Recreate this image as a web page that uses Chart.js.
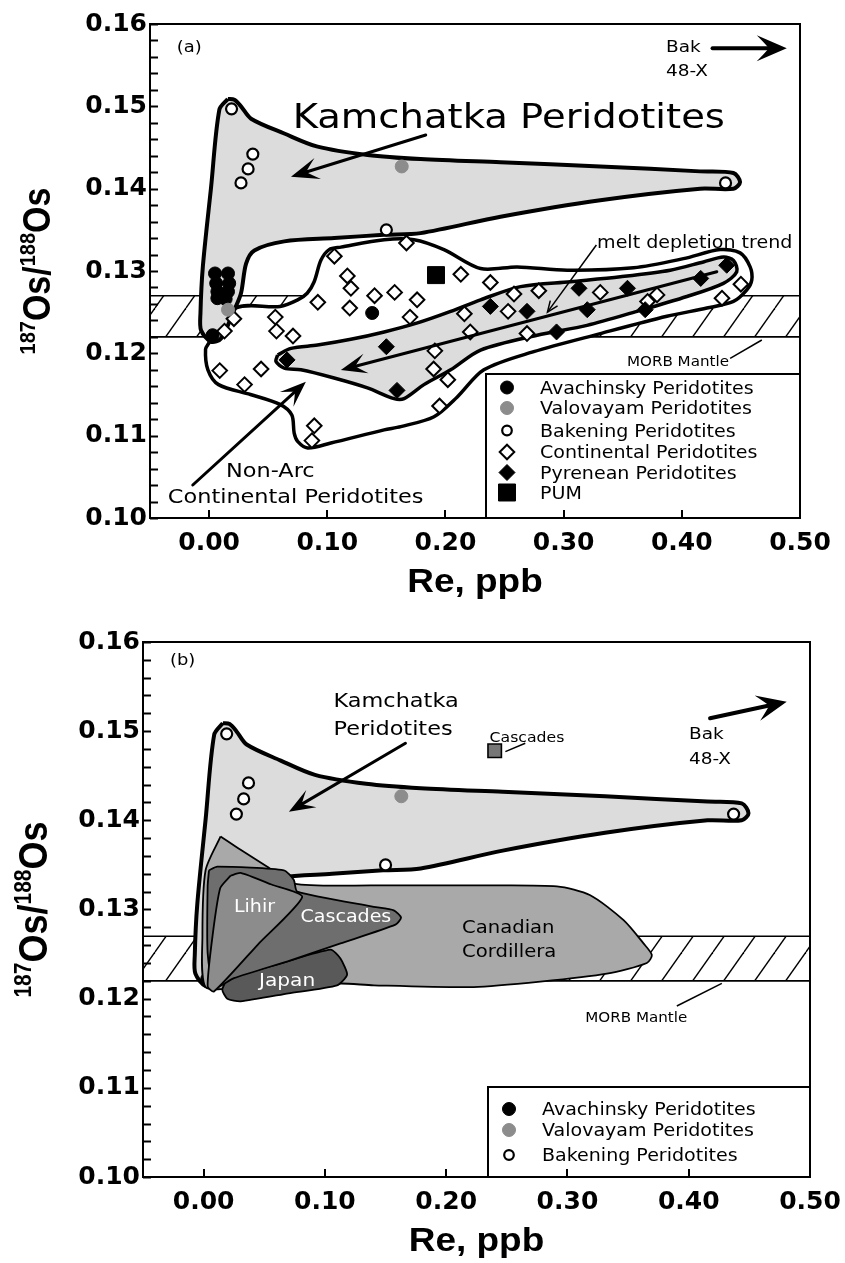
<!DOCTYPE html>
<html>
<head>
<meta charset="utf-8">
<script src="https://cdn.jsdelivr.net/npm/chart.js@4.4.1/dist/chart.umd.min.js"></script>
<style>
  html, body { margin: 0; padding: 0; background: #fff; }
  #wrap { position: relative; width: 845px; height: 1263px; overflow: hidden; background: #fff; }
  #cA { position: absolute; left: 0; top: 0; }
  #cB { position: absolute; left: 0; top: 600px; }
</style>
</head>
<body>
<div id="wrap">
  <canvas id="cA" width="845" height="600"></canvas>
  <canvas id="cB" width="845" height="663"></canvas>
</div>
<script>
// ---------- axes ----------
const X_MIN = -0.05, X_MAX = 0.50;
const Y_MIN = 0.10, Y_MAX = 0.16;
const xTicks = [0.00, 0.10, 0.20, 0.30, 0.40, 0.50];
const yTicks = [0.10, 0.11, 0.12, 0.13, 0.14, 0.15, 0.16];
const yMinorStep = 0.002;

// ---------- samples: Re (ppb) and 187Os/188Os ----------
const avachinskyRe = [0.005, 0.016, 0.006, 0.017, 0.007, 0.016, 0.007, 0.014, 0.003, 0.138];
const avachinskyOs = [0.1297, 0.1297, 0.1285, 0.1285, 0.1275, 0.1275, 0.1267, 0.1266, 0.1222, 0.1249];

const valovayamRe = [0.163, 0.016];
const valovayamOs = [0.1427, 0.1253];

const bakeningRe = [0.019, 0.037, 0.033, 0.027, 0.150, 0.437];
const bakeningOs = [0.1497, 0.1442, 0.1424, 0.1407, 0.1350, 0.1407];

const continentalRe = [0.106, 0.167, 0.213, 0.117, 0.120, 0.092, 0.119, 0.140, 0.157, 0.176,
                       0.170, 0.216, 0.221, 0.191, 0.190, 0.202, 0.195, 0.089, 0.087, 0.056,
                       0.057, 0.071, 0.021, 0.013, 0.009, 0.030, 0.044, 0.238, 0.258, 0.279,
                       0.253, 0.269, 0.331, 0.379, 0.371, 0.434, 0.450];
const continentalOs = [0.1318, 0.1334, 0.1296, 0.1294, 0.1279, 0.1262, 0.1255, 0.1270, 0.1274, 0.1265,
                       0.1244, 0.1248, 0.1226, 0.1203, 0.1181, 0.1168, 0.1136, 0.1112, 0.1094, 0.1244,
                       0.1227, 0.1221, 0.1242, 0.1227, 0.1179, 0.1162, 0.1181, 0.1286, 0.1272, 0.1276,
                       0.1251, 0.1224, 0.1274, 0.1271, 0.1263, 0.1267, 0.1284];

const pyreneanRe = [0.066, 0.150, 0.159, 0.238, 0.269, 0.294, 0.313, 0.320, 0.354, 0.369, 0.416, 0.438];
const pyreneanOs = [0.1192, 0.1208, 0.1155, 0.1257, 0.1251, 0.1226, 0.1279, 0.1253, 0.1279, 0.1253, 0.1291, 0.1307];

const pumRe = [0.192];
const pumOs = [0.1295];

const cascadesRe = [0.240];
const cascadesOs = [0.1478];

// MORB mantle range of 187Os/188Os
const morbRange = [0.122, 0.127];

// ---------- field outlines [Re, 187Os/188Os] ----------
const kamchatkaField = [
  [0.0158, 0.1509], [0.0214, 0.1508], [0.027, 0.1500], [0.0355, 0.1485], [0.0636, 0.1467],
  [0.0918, 0.1451], [0.134, 0.1441], [0.179, 0.1436], [0.2466, 0.1432], [0.331, 0.1427],
  [0.4155, 0.1421], [0.4437, 0.1419], [0.4493, 0.1408], [0.4437, 0.1400], [0.4155, 0.1400],
  [0.331, 0.1386], [0.2466, 0.1366], [0.179, 0.1346], [0.148, 0.1344], [0.1059, 0.1340],
  [0.0636, 0.1336], [0.0383, 0.1325], [0.0313, 0.1309], [0.027, 0.1273], [0.0214, 0.1253],
  [0.0101, 0.1218], [0.0017, 0.1214], [-0.0068, 0.1228], [-0.0073, 0.1249], [-0.0053, 0.1305],
  [0.0017, 0.1402], [0.0087, 0.1496]
];

const continentalField = [
  [0.0, 0.1213], [0.0228, 0.1255], [0.06, 0.1257], [0.075, 0.1265], [0.083, 0.1273],
  [0.0889, 0.1287], [0.0946, 0.1313], [0.1016, 0.1326], [0.1115, 0.1329], [0.1481, 0.1338],
  [0.1734, 0.1338], [0.1987, 0.1326], [0.2297, 0.1303], [0.2607, 0.1305], [0.303, 0.1301],
  [0.3592, 0.1304], [0.4014, 0.1315], [0.4324, 0.1326], [0.4493, 0.1322], [0.4578, 0.1305],
  [0.4592, 0.1289], [0.455, 0.1277], [0.4437, 0.1263], [0.4212, 0.1255], [0.3874, 0.1245],
  [0.3311, 0.1224], [0.2747, 0.1202], [0.2325, 0.1180], [0.21, 0.1147], [0.1903, 0.1123],
  [0.1622, 0.1111], [0.1481, 0.1107], [0.103, 0.1091], [0.0834, 0.1085], [0.0749, 0.1093],
  [0.072, 0.1103], [0.070, 0.1125], [0.060, 0.1138], [0.035, 0.1150], [0.008, 0.1162],
  [-0.001, 0.1180], [-0.003, 0.1205]
];

const pyreneanField = [
  [0.058, 0.1198], [0.0693, 0.1206], [0.0918, 0.1210], [0.1199, 0.1217], [0.1481, 0.1226],
  [0.1763, 0.1237], [0.2044, 0.1251], [0.2297, 0.1265], [0.2635, 0.1281], [0.3057, 0.1287],
  [0.348, 0.1293], [0.3902, 0.1301], [0.4183, 0.1311], [0.4352, 0.1317], [0.4437, 0.1313],
  [0.4465, 0.1299], [0.4352, 0.1285], [0.4043, 0.1269], [0.3621, 0.1251], [0.3198, 0.1234],
  [0.2776, 0.1222], [0.2297, 0.1204], [0.2044, 0.1180], [0.1818, 0.1162], [0.165, 0.1145],
  [0.1565, 0.1145], [0.134, 0.1158], [0.1058, 0.1170], [0.0777, 0.1180], [0.0636, 0.1182],
  [0.0566, 0.1190]
];

const canadianField = [
  [0.014, 0.1382], [0.0305, 0.1367], [0.0525, 0.1348], [0.0745, 0.1329], [0.1403, 0.1327],
  [0.2227, 0.1327], [0.2913, 0.1326], [0.3188, 0.1316], [0.3463, 0.1288], [0.3627, 0.1262],
  [0.3696, 0.1249], [0.3655, 0.1240], [0.3325, 0.1228], [0.2776, 0.1219], [0.2227, 0.1213],
  [0.1403, 0.1215], [0.1128, 0.1217], [0.03, 0.1213], [0.0016, 0.1213], [-0.001, 0.1270],
  [0.0016, 0.1344]
];

const cascadesField = [
  [0.0044, 0.1344], [0.0113, 0.1348], [0.0662, 0.1344], [0.0744, 0.1333], [0.0772, 0.1320],
  [0.1403, 0.1303], [0.1568, 0.1299], [0.1628, 0.1291], [0.1582, 0.1283], [0.1129, 0.1262],
  [0.0717, 0.1243], [0.025, 0.1223], [0.0088, 0.1212], [0.0033, 0.1251], [0.0033, 0.1326]
];

const japanField = [
  [0.0195, 0.1223], [0.062, 0.1239], [0.1046, 0.1255], [0.1128, 0.1245], [0.1183, 0.1227],
  [0.11, 0.1215], [0.07, 0.1206], [0.0305, 0.1197], [0.0195, 0.1200], [0.0154, 0.1210]
];

const lihirField = [
  [0.0223, 0.1338], [0.0305, 0.1341], [0.056, 0.1328], [0.0813, 0.1314], [0.0449, 0.1261],
  [0.0085, 0.1208], [0.0033, 0.1214], [0.0074, 0.1271], [0.0137, 0.1324]
];

// ---------- helpers ----------
const STRETCH = 1.12;
const SANS = '"DejaVu Sans", sans-serif';
const HELV = '"Liberation Sans", Arial, sans-serif';

const pts = (xs, ys) => xs.map((x, i) => ({ x, y: ys[i] }));
const ring = (arr) => arr.concat([arr[0]]).map(([x, y]) => ({ x, y }));

function hatchPattern(ctx) {
  const W = 31, H = 44;
  const c = document.createElement('canvas');
  c.width = W; c.height = H;
  const g = c.getContext('2d');
  g.fillStyle = '#fff'; g.fillRect(0, 0, W, H);
  g.strokeStyle = '#000'; g.lineWidth = 1.4;
  for (const dx of [-W, 0, W]) {
    g.beginPath(); g.moveTo(dx, H); g.lineTo(dx + W, 0); g.stroke();
  }
  return ctx.createPattern(c, 'repeat');
}

function field(label, outline, fill, width, order, tension) {
  return {
    label, data: ring(outline), showLine: true, fill: 'shape',
    backgroundColor: fill, borderColor: '#000', borderWidth: width,
    borderJoinStyle: 'round', pointRadius: 0, tension: tension, order
  };
}

function band(pattern, order) {
  const [lo, hi] = morbRange;
  return {
    label: 'MORB Mantle',
    data: ring([[X_MIN, lo], [X_MAX, lo], [X_MAX, hi], [X_MIN, hi]]),
    showLine: true, fill: 'shape', backgroundColor: pattern,
    borderColor: '#000', borderWidth: 1.6, pointRadius: 0, tension: 0, order
  };
}

function samples(label, xs, ys, style, order) {
  return Object.assign({ label, data: pts(xs, ys), showLine: false, order }, style);
}

const S = {
  avachinsky:  { pointStyle: 'circle',  pointRadius: 6.5, backgroundColor: '#000',    borderColor: '#000',    borderWidth: 1 },
  valovayam:   { pointStyle: 'circle',  pointRadius: 6.5, backgroundColor: '#8c8c8c', borderColor: '#8c8c8c', borderWidth: 1 },
  bakening:    { pointStyle: 'circle',  pointRadius: 5.5, backgroundColor: '#fff',    borderColor: '#000',    borderWidth: 2.2 },
  continental: { pointStyle: 'rectRot', pointRadius: 7.3, backgroundColor: '#fff',    borderColor: '#000',    borderWidth: 2 },
  pyrenean:    { pointStyle: 'rectRot', pointRadius: 8,   backgroundColor: '#000',    borderColor: '#000',    borderWidth: 1 },
  pum:         { pointStyle: 'rect',    pointRadius: 12,  backgroundColor: '#000',    borderColor: '#000',    borderWidth: 1 },
  cascades:    { pointStyle: 'rect',    pointRadius: 9.5, backgroundColor: '#777',    borderColor: '#000',    borderWidth: 1.6 }
};

function txt(ctx, s, x, y, size, o = {}) {
  ctx.save();
  ctx.translate(x, y);
  ctx.scale(o.stretch || STRETCH, 1);
  ctx.font = `${o.weight || 'normal'} ${size}px ${o.family || SANS}`;
  ctx.fillStyle = o.color || '#000';
  ctx.textAlign = o.align || 'left';
  ctx.textBaseline = 'alphabetic';
  ctx.fillText(s, 0, 0);
  ctx.restore();
}

function arrow(ctx, x1, y1, x2, y2, o) {
  const ang = Math.atan2(y2 - y1, x2 - x1);
  ctx.save();
  ctx.strokeStyle = '#000'; ctx.fillStyle = '#000';
  ctx.lineWidth = o.w; ctx.lineCap = 'round';
  ctx.beginPath();
  ctx.moveTo(x1, y1);
  ctx.lineTo(x2 - Math.cos(ang) * o.notch, y2 - Math.sin(ang) * o.notch);
  ctx.stroke();
  ctx.translate(x2, y2); ctx.rotate(ang);
  ctx.beginPath();
  ctx.moveTo(0, 0);
  ctx.lineTo(-o.len, -o.half);
  ctx.quadraticCurveTo(-o.notch * 1.1, -o.half * 0.2, -o.notch, 0);
  ctx.quadraticCurveTo(-o.notch * 1.1, o.half * 0.2, -o.len, o.half);
  ctx.closePath();
  ctx.fill();
  ctx.restore();
}

function leader(ctx, x1, y1, x2, y2, o) {
  ctx.save();
  ctx.strokeStyle = '#000'; ctx.lineWidth = o.w;
  ctx.beginPath(); ctx.moveTo(x1, y1); ctx.lineTo(x2, y2); ctx.stroke();
  if (o.head) {
    const ang = Math.atan2(y2 - y1, x2 - x1);
    ctx.translate(x2, y2); ctx.rotate(ang);
    ctx.beginPath();
    ctx.moveTo(-11, -4.5); ctx.lineTo(0, 0); ctx.lineTo(-11, 4.5);
    ctx.stroke();
  }
  ctx.restore();
}

function marker(ctx, st, x, y) {
  ctx.save();
  ctx.fillStyle = st.backgroundColor; ctx.strokeStyle = st.borderColor; ctx.lineWidth = st.borderWidth;
  const r = st.pointRadius;
  ctx.beginPath();
  if (st.pointStyle === 'circle') {
    ctx.arc(x, y, r, 0, Math.PI * 2);
  } else if (st.pointStyle === 'rectRot') {
    ctx.moveTo(x - r, y); ctx.lineTo(x, y - r); ctx.lineTo(x + r, y); ctx.lineTo(x, y + r); ctx.closePath();
  } else {
    const h = r * Math.SQRT1_2; ctx.rect(x - h, y - h, 2 * h, 2 * h);
  }
  ctx.fill(); ctx.stroke();
  ctx.restore();
}

// 187Os/188Os axis title with superscript mass numbers
function yTitle(ctx, baseX, cy, size) {
  const sup = Math.round(size * 0.58);
  const parts = [['187', sup, true], ['Os/', size, false], ['188', sup, true], ['Os', size, false]];
  const widths = parts.map(([t, s]) => { ctx.font = `bold ${s}px ${HELV}`; return ctx.measureText(t).width; });
  const total = widths.reduce((a, b) => a + b, 0);
  ctx.save();
  ctx.translate(baseX, cy);
  ctx.scale(STRETCH, 1);
  ctx.rotate(-Math.PI / 2);
  ctx.fillStyle = '#000'; ctx.textBaseline = 'alphabetic'; ctx.textAlign = 'left';
  let x = -total / 2;
  parts.forEach(([t, s, isSup], i) => {
    ctx.font = `bold ${s}px ${HELV}`;
    ctx.fillText(t, x, isSup ? -size * 0.4 : 0);
    x += widths[i];
  });
  ctx.restore();
}

function panelPlugin(p) {
  return {
    id: 'panel_' + p.tag,
    afterDatasetsDraw(chart) {
      const ctx = chart.ctx, xs = chart.scales.x, ys = chart.scales.y;
      const X = v => xs.getPixelForValue(v), Y = v => ys.getPixelForValue(v);
      p.leaders.forEach(l => leader(ctx, X(l.from[0]), Y(l.from[1]), X(l.to[0]), Y(l.to[1]), l));
      p.arrows.forEach(a => arrow(ctx, X(a.from[0]), Y(a.from[1]), X(a.to[0]), Y(a.to[1]), a));
      p.labels.forEach(t => txt(ctx, t.text, X(t.x), Y(t.y), t.size, t));
    },
    afterDraw(chart) {
      const ctx = chart.ctx, ca = chart.chartArea;
      const xs = chart.scales.x, ys = chart.scales.y;
      // legend box
      const lg = p.legend;
      const L = ca.right - lg.w, T = ca.bottom - lg.h;
      ctx.save();
      ctx.fillStyle = '#fff'; ctx.fillRect(L, T, lg.w, lg.h);
      ctx.strokeStyle = '#000'; ctx.lineWidth = 2; ctx.strokeRect(L, T, lg.w, lg.h);
      ctx.restore();
      lg.items.forEach(it => {
        marker(ctx, it.style, L + 21, T + it.dy);
        txt(ctx, it.label, L + 54, T + it.dy + 6.3, 17);
      });
      // frame
      ctx.save();
      ctx.strokeStyle = '#000'; ctx.lineWidth = 2;
      ctx.strokeRect(ca.left, ca.top, ca.right - ca.left, ca.bottom - ca.top);
      // inward tick marks
      for (let v = Y_MIN; v <= Y_MAX + 1e-9; v += yMinorStep) {
        const y = Math.round(ys.getPixelForValue(v)) + 0.5;
        ctx.beginPath(); ctx.moveTo(ca.left, y); ctx.lineTo(ca.left + 8, y); ctx.stroke();
      }
      xTicks.forEach(v => {
        const x = Math.round(xs.getPixelForValue(v));
        ctx.beginPath(); ctx.moveTo(x, ca.bottom); ctx.lineTo(x, ca.bottom - 8); ctx.stroke();
      });
      ctx.restore();
      // axis titles
      txt(ctx, 'Re, ppb', (ca.left + ca.right) / 2, ca.bottom + 74, 33, { weight: 'bold', family: HELV, align: 'center' });
      yTitle(ctx, p.yTitleX, (ca.top + ca.bottom) / 2, p.yTitleSize);
    }
  };
}

function build(canvasId, p, makeDatasets) {
  const canvas = document.getElementById(canvasId);
  const ctx = canvas.getContext('2d');
  const tickFont = { family: '"DejaVu Sans", sans-serif', weight: 'bold', size: 25 };
  return new Chart(ctx, {
    type: 'scatter',
    data: { datasets: makeDatasets(hatchPattern(ctx)) },
    options: {
      responsive: false, animation: false, devicePixelRatio: 1, events: [],
      layout: { padding: { top: p.padTop, right: p.padRight, bottom: 0, left: 0 } },
      plugins: { legend: { display: false }, tooltip: { enabled: false } },
      scales: {
        x: {
          type: 'linear', min: X_MIN, max: X_MAX,
          afterBuildTicks: s => { s.ticks = xTicks.map(v => ({ value: v })); },
          ticks: { callback: v => Number(v).toFixed(2), font: tickFont, color: '#000', padding: 10, maxRotation: 0, autoSkip: false },
          grid: { display: false, drawTicks: false },
          border: { display: true, color: '#000', width: 2 },
          afterFit: s => { s.height = p.xAxisH; s.paddingLeft = 0; s.paddingRight = 0; }
        },
        y: {
          type: 'linear', min: Y_MIN, max: Y_MAX,
          afterBuildTicks: s => { s.ticks = yTicks.map(v => ({ value: v })); },
          ticks: { callback: v => Number(v).toFixed(2), font: tickFont, color: '#000', padding: 3, autoSkip: false },
          grid: { display: false, drawTicks: false },
          border: { display: true, color: '#000', width: 2 },
          afterFit: s => { s.width = p.yAxisW; s.paddingTop = 0; s.paddingBottom = 0; }
        }
      }
    },
    plugins: [panelPlugin(p)]
  });
}

// ---------- panel (a) ----------
const panelA = {
  tag: 'a', padTop: 24, padRight: 45, yAxisW: 150, xAxisH: 82, yTitleX: 50, yTitleSize: 34,
  labels: [
    { text: '(a)', x: -0.0273, y: 0.1566, size: 16 },
    { text: 'Bak', x: 0.3866, y: 0.1566, size: 16.5 },
    { text: '48-X', x: 0.3866, y: 0.15368, size: 16.5 },
    { text: 'Kamchatka Peridotites', x: 0.0707, y: 0.14733, size: 34.4 },
    { text: 'melt depletion trend', x: 0.3283, y: 0.13276, size: 17 },
    { text: 'Non-Arc', x: 0.01436, y: 0.10501, size: 20 },
    { text: 'Continental Peridotites', x: -0.0349, y: 0.10186, size: 20 },
    { text: 'MORB Mantle', x: 0.3536, y: 0.11846, size: 13.5 }
  ],
  arrows: [
    { from: [0.426, 0.15705], to: [0.4888, 0.15705], w: 4, len: 30, half: 13, notch: 18 },
    { from: [0.1833, 0.14652], to: [0.0693, 0.14145], w: 3, len: 28, half: 11, notch: 16 },
    { from: [0.4296, 0.12991], to: [0.1115, 0.11797], w: 3, len: 26, half: 10, notch: 15 },
    { from: [-0.0138, 0.10401], to: [0.0819, 0.11655], w: 3, len: 26, half: 10, notch: 15 }
  ],
  leaders: [
    { from: [0.3277, 0.13316], to: [0.2863, 0.1250], w: 1.5, head: true },
    { from: [0.4409, 0.11939], to: [0.4677, 0.12162], w: 1.5 }
  ],
  legend: {
    w: 314, h: 144,
    items: [
      { label: 'Avachinsky Peridotites', style: S.avachinsky, dy: 13.5 },
      { label: 'Valovayam Peridotites', style: S.valovayam, dy: 34 },
      { label: 'Bakening Peridotites', style: Object.assign({}, S.bakening, { pointRadius: 4.8 }), dy: 56.5 },
      { label: 'Continental Peridotites', style: S.continental, dy: 78 },
      { label: 'Pyrenean Peridotites', style: S.pyrenean, dy: 98.5 },
      { label: 'PUM', style: S.pum, dy: 118.5 }
    ]
  }
};

build('cA', panelA, pattern => [
  band(pattern, 100),
  field('Non-Arc Continental Peridotites', continentalField, '#ffffff', 3.5, 90, 0.3),
  field('Kamchatka Peridotites', kamchatkaField, '#dcdcdc', 4, 80, 0.3),
  field('Pyrenean field', pyreneanField, '#dcdcdc', 3.5, 70, 0.3),
  samples('Continental Peridotites', continentalRe, continentalOs, S.continental, 50),
  samples('Pyrenean Peridotites', pyreneanRe, pyreneanOs, S.pyrenean, 45),
  samples('PUM', pumRe, pumOs, S.pum, 40),
  samples('Avachinsky Peridotites', avachinskyRe, avachinskyOs, S.avachinsky, 30),
  samples('Valovayam Peridotites', valovayamRe, valovayamOs, S.valovayam, 20),
  samples('Bakening Peridotites', bakeningRe, bakeningOs, S.bakening, 10)
]);

// ---------- panel (b) ----------
const panelB = {
  tag: 'b', padTop: 42, padRight: 35, yAxisW: 143, xAxisH: 86, yTitleX: 47, yTitleSize: 36,
  labels: [
    { text: '(b)', x: -0.0278, y: 0.1574, size: 16 },
    { text: 'Kamchatka', x: 0.1071, y: 0.15274, size: 20 },
    { text: 'Peridotites', x: 0.1071, y: 0.14957, size: 20 },
    { text: 'Cascades', x: 0.2358, y: 0.14882, size: 14 },
    { text: 'Bak', x: 0.4003, y: 0.14912, size: 16.5 },
    { text: '48-X', x: 0.4003, y: 0.14632, size: 16.5 },
    { text: 'Lihir', x: 0.025, y: 0.12976, size: 17, color: '#fff' },
    { text: 'Cascades', x: 0.0799, y: 0.12863, size: 17, color: '#fff' },
    { text: 'Japan', x: 0.0456, y: 0.12146, size: 18, color: '#fff' },
    { text: 'Canadian', x: 0.2131, y: 0.12733, size: 17.5 },
    { text: 'Cordillera', x: 0.2131, y: 0.12464, size: 17.5 },
    { text: 'MORB Mantle', x: 0.3147, y: 0.11742, size: 13.5 }
  ],
  arrows: [
    { from: [0.1664, 0.14864], to: [0.0703, 0.14097], w: 3, len: 26, half: 10, notch: 15 },
    { from: [0.4176, 0.15144], to: [0.4808, 0.1533], w: 4, len: 30, half: 13, notch: 18 }
  ],
  leaders: [
    { from: [0.2488, 0.1477], to: [0.2652, 0.14864], w: 1.5 },
    { from: [0.3902, 0.11918], to: [0.4273, 0.12172], w: 1.5 }
  ],
  legend: {
    w: 322, h: 90,
    items: [
      { label: 'Avachinsky Peridotites', style: S.avachinsky, dy: 22 },
      { label: 'Valovayam Peridotites', style: S.valovayam, dy: 43 },
      { label: 'Bakening Peridotites', style: Object.assign({}, S.bakening, { pointRadius: 4.8 }), dy: 68 }
    ]
  }
};

build('cB', panelB, pattern => [
  band(pattern, 100),
  field('Kamchatka Peridotites', kamchatkaField, '#dcdcdc', 4, 90, 0.3),
  samples('Avachinsky Peridotites', avachinskyRe, avachinskyOs, S.avachinsky, 85),
  samples('Valovayam Peridotites', valovayamRe, valovayamOs, S.valovayam, 84),
  field('Canadian Cordillera', canadianField, '#a9a9a9', 1.8, 70, 0.25),
  field('Japan', japanField, '#595959', 1.8, 60, 0.2),
  field('Cascades', cascadesField, '#6e6e6e', 1.8, 55, 0.2),
  field('Lihir', lihirField, '#8c8c8c', 1.8, 50, 0.2),
  samples('Bakening Peridotites', bakeningRe, bakeningOs, S.bakening, 10),
  samples('Cascades', cascadesRe, cascadesOs, S.cascades, 5)
]);
</script>
</body>
</html>
